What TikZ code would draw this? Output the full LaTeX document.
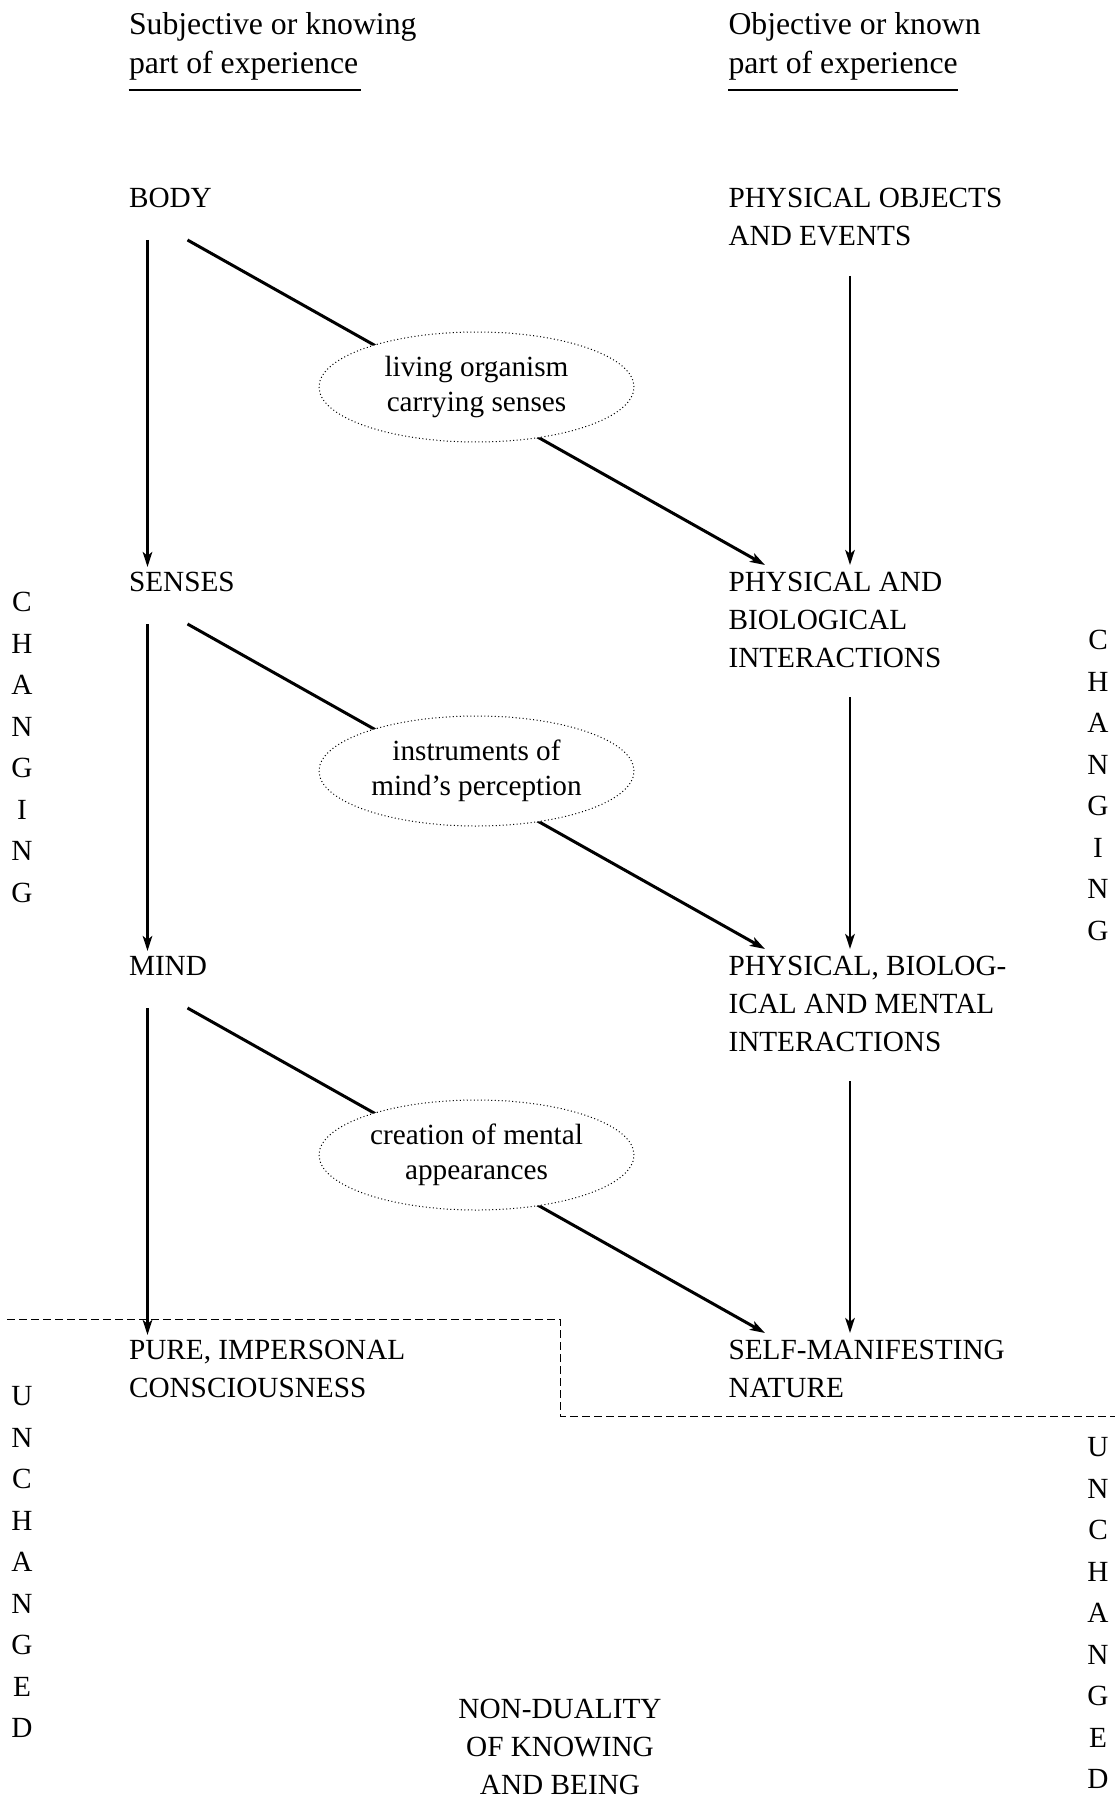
\documentclass[tikz,border=0pt]{standalone}
\usepackage{fontspec}
\setmainfont{Liberation Serif}
\usetikzlibrary{arrows.meta,shapes}
\pgfdeclarelayer{background}
\pgfsetlayers{background,main}
\tikzstyle{edge} = [draw,line width=1pt,->]
\tikzstyle{slant} = [draw,line width=1.2pt,->]

\begin{document}
\begin{tikzpicture}[>={Stealth[length=6pt,width=3.8pt,inset=1.5pt]},x=0.4pt,y=-0.4pt,inner sep=0pt,
  every node/.style={font=\fontsize{11.7}{15.2}\selectfont},
  box node/.style={anchor=north west,align=left},
  head node/.style={anchor=north west,align=left,font=\fontsize{12.7}{15.4}\selectfont},
  note node/.style={ellipse,draw,densely dotted,thin,fill=white,align=center,
    minimum width=126pt,minimum height=44pt,font=\fontsize{11.7}{14}\selectfont},
  side node/.style={anchor=north,align=center,font=\fontsize{11.7}{16.6}\selectfont}]

  \useasboundingbox (0,0) rectangle (1115,1798);

  % column heads
  \node[head node] (subj) at (128.5,12.4) {Subjective or knowing\\part of experience};
  \node[head node] (obj) at (728,12.4) {Objective or known\\part of experience};
  \draw[semithick] ([yshift=-9.5*0.4pt]subj.south west) -- ++(232,0);
  \draw[semithick] ([yshift=-9.5*0.4pt]obj.south west) -- ++(230,0);

  % left column
  \node[box node] (body) at (128.5,188) {BODY};
  \node[box node] (senses) at (128.5,572) {SENSES};
  \node[box node] (mind) at (128.5,956) {MIND};
  \node[box node] (pure) at (128.5,1340) {PURE, IMPERSONAL\\CONSCIOUSNESS};

  % right column
  \node[box node] (physobj) at (728,188) {PHYSICAL OBJECTS\\AND EVENTS};
  \node[box node] (physbio) at (728,572) {PHYSICAL AND\\BIOLOGICAL\\INTERACTIONS};
  \node[box node] (physment) at (728,956) {PHYSICAL, BIOLOG-\\ICAL AND MENTAL\\INTERACTIONS};
  \node[box node] (nature) at (728,1340) {SELF-MANIFESTING\\NATURE};

  \node[anchor=north,align=center] (nondual) at (560,1699) {NON-DUALITY\\OF KNOWING\\AND BEING};

  % side words
  \node[side node] (chgL) at (22,592) {C\\H\\A\\N\\G\\I\\N\\G};
  \node[side node] (chgR) at (1098,630) {C\\H\\A\\N\\G\\I\\N\\G};
  \node[side node] (unchL) at (22,1386) {U\\N\\C\\H\\A\\N\\G\\E\\D};
  \node[side node] (unchR) at (1098,1437) {U\\N\\C\\H\\A\\N\\G\\E\\D};

  \begin{pgfonlayer}{background}
    \path
      ([shift={(19,52)}]body.north west) edge[edge] ([shift={(19,-5)}]senses.north west)
      ([shift={(19,52)}]senses.north west) edge[edge] ([shift={(19,-5)}]mind.north west)
      ([shift={(19,52)}]mind.north west) edge[edge] ([shift={(19,-5)}]pure.north west);
    \path
      ([shift={(59,52)}]body.north west) edge[slant] ([shift={(37,-7)}]physbio.north west)
      ([shift={(59,52)}]senses.north west) edge[slant] ([shift={(37,-7)}]physment.north west)
      ([shift={(59,52)}]mind.north west) edge[slant] ([shift={(37,-7)}]nature.north west);
    \path
      ([shift={(122,88)}]physobj.north west) edge[edge] ([shift={(122,-7)}]physbio.north west)
      ([shift={(122,125)}]physbio.north west) edge[edge] ([shift={(122,-7)}]physment.north west)
      ([shift={(122,125)}]physment.north west) edge[edge] ([shift={(122,-7)}]nature.north west);
  \end{pgfonlayer}

  % labels on the slanted edges
  \node[note node] (living) at (476.5,387) {living organism\\carrying senses};
  \node[note node] (instr) at (476.5,771) {instruments of\\mind’s perception};
  \node[note node] (creation) at (476.5,1155) {creation of mental\\appearances};

  % border between changing and unchanged
  \draw[thin,dash pattern=on 3pt off 1.8pt] (7,1319) -- (560,1319) -- (560,1416) -- (1115,1416);

\end{tikzpicture}
\end{document}
